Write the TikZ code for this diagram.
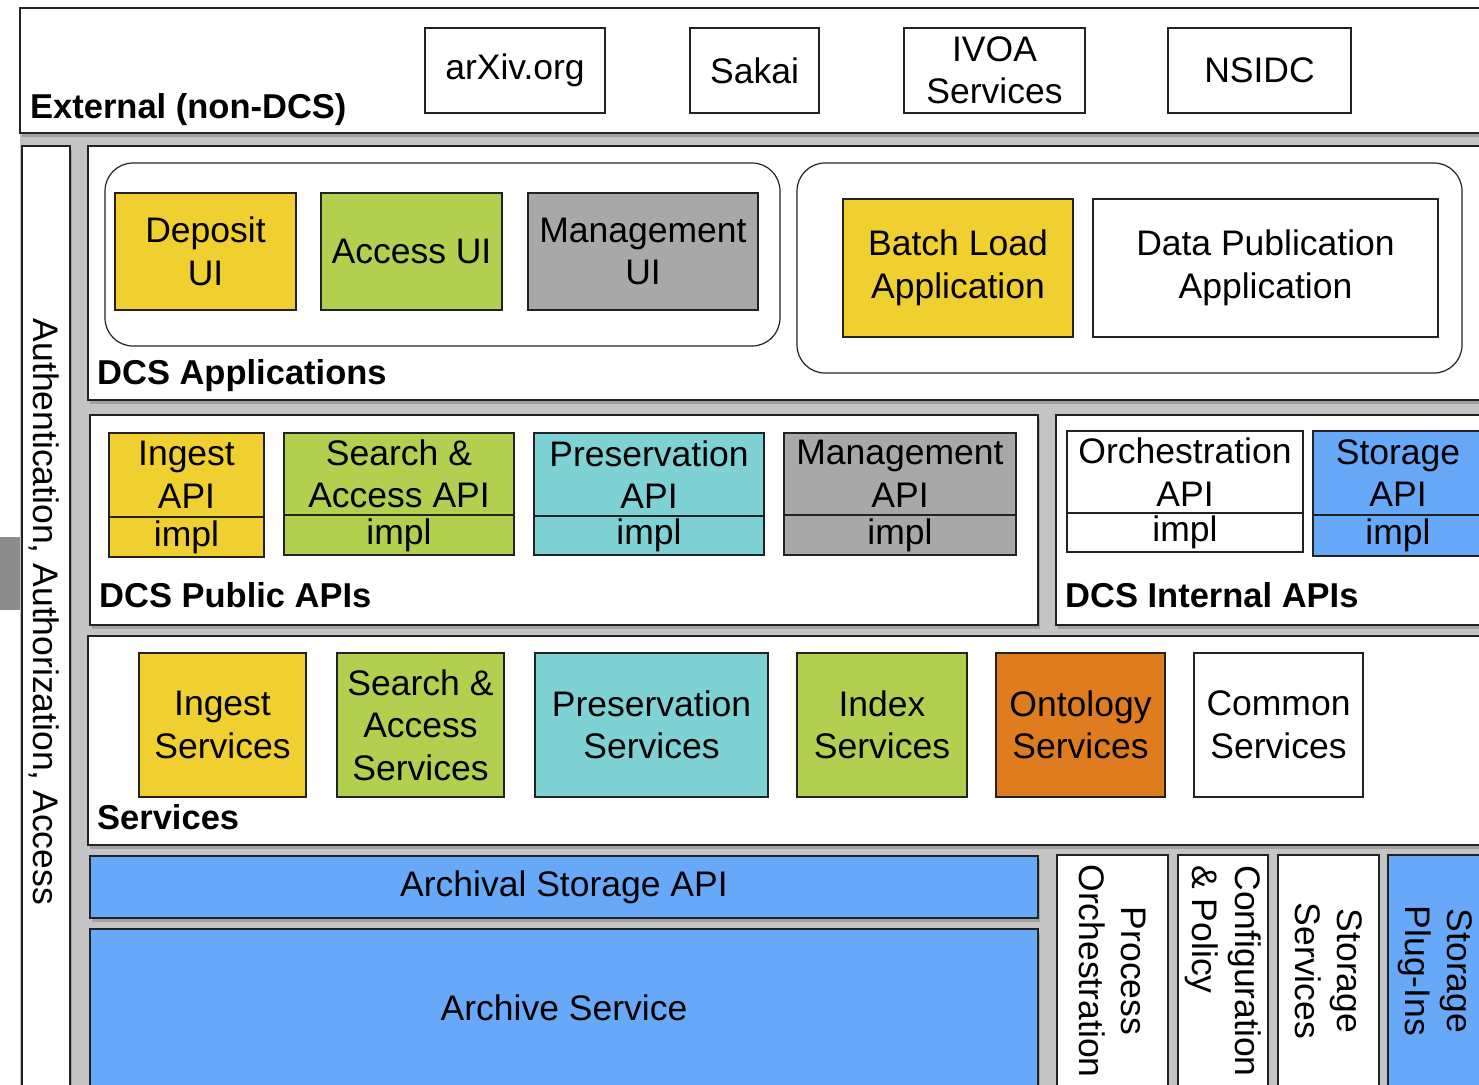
\documentclass[tikz,border=0pt]{standalone}
\usepackage{fontspec}
\setmainfont{Liberation Sans}
\usetikzlibrary{positioning,shadows}

\definecolor{dcsyellow}{RGB}{240,208,48}
\definecolor{dcsgreen}{RGB}{178,208,80}
\definecolor{dcsgray}{RGB}{168,168,168}
\definecolor{dcscyan}{RGB}{126,210,212}
\definecolor{dcsblue}{RGB}{104,168,248}
\definecolor{dcsorange}{RGB}{224,124,32}
\definecolor{backgray}{RGB}{196,196,196}
\definecolor{edge}{RGB}{34,34,34}

\tikzset{
    panel/.style={draw=edge, line width=1.8pt, fill=white,
        drop shadow={shadow xshift=2pt, shadow yshift=-4pt, opacity=0.5}},
    appgroup/.style={draw=edge, line width=1.2pt, rounded corners=28pt},
    blk/.style={draw=edge, line width=1.4pt, inner sep=0pt, outer sep=0pt, align=center,
        font=\fontsize{35.5}{42.5}\selectfont},
    upright/.style={blk, rotate=-90},
    sunk/.style={drop shadow={shadow xshift=2pt, shadow yshift=-4pt, opacity=0.5}},
    paneltitle/.style={anchor=base west, inner sep=0pt,
        font=\fontsize{34.5}{40}\selectfont\bfseries},
}

\begin{document}
\begin{tikzpicture}[x=1pt, y=-1pt]
            \useasboundingbox (0,0) rectangle (1479,1084);
            \clip (0,0) rectangle (1479,1084);
            \fill[backgray] (20,133) rectangle (1500,1100);
            \fill[black!45] (0,537) rectangle (20,610);

            \draw[panel] (20,8) rectangle (1500,133);
            \node[paneltitle] (exttitle) at (30,118) {External (non-DCS)};
            \node[blk, minimum width=180pt, minimum height=85pt] (arxiv) at (515,70.5) {arXiv.org};
            \node[blk, minimum width=129pt, minimum height=85pt] (sakai) at (754.5,70.5) {Sakai};
            \node[blk, minimum width=181pt, minimum height=85pt] (ivoa) at (994.5,70.5) {IVOA\\Services};
            \node[blk, minimum width=183pt, minimum height=85pt] (nsidc) at (1259.5,70.5) {NSIDC};

            \draw[panel] (22,146) rectangle (70,1100);
            \node[rotate=-90, font=\fontsize{35.5}{42.5}\selectfont] (aaa) at (44,612) {Authentication, Authorization, Access};

            \draw[panel] (88,146) rectangle (1500,400);
            \node[paneltitle] (apptitle) at (97,384) {DCS Applications};
            \draw[appgroup] (105,163) rectangle (780,346);
            \draw[appgroup] (797,163) rectangle (1462,373);
            \node[blk, fill=dcsyellow, minimum width=181pt, minimum height=117pt] (depositui) at (205.5,251.5) {Deposit\\UI};
            \node[blk, fill=dcsgreen, minimum width=181pt, minimum height=117pt] (accessui) at (411.5,251.5) {Access UI};
            \node[blk, fill=dcsgray, minimum width=230pt, minimum height=117pt] (mgmtui) at (643,251.5) {Management\\UI};
            \node[blk, fill=dcsyellow, minimum width=230pt, minimum height=138pt] (batchapp) at (958,268) {Batch Load\\Application};
            \node[blk, fill=white, minimum width=345pt, minimum height=138pt] (pubapp) at (1265.5,268) {Data Publication\\Application};

            \draw[panel] (90,415) rectangle (1038,625);
            \node[paneltitle] (pubtitle) at (99,607) {DCS Public APIs};
            \node[blk, fill=dcsyellow, minimum width=155pt, minimum height=84pt] (ingestapi) at (186.5,475) {Ingest\\API};
            \node[blk, fill=dcsyellow, minimum width=155pt, minimum height=40pt, below=0pt of ingestapi] (ingestimpl) {impl};
            \node[blk, fill=dcsgreen, minimum width=230pt, minimum height=82pt] (searchapi) at (399,474) {Search \&\\Access API};
            \node[blk, fill=dcsgreen, minimum width=230pt, minimum height=40pt, below=0pt of searchapi] (searchimpl) {impl};
            \node[blk, fill=dcscyan, minimum width=230pt, minimum height=83pt] (presapi) at (649,474.5) {Preservation\\API};
            \node[blk, fill=dcscyan, minimum width=230pt, minimum height=39pt, below=0pt of presapi] (presimpl) {impl};
            \node[blk, fill=dcsgray, minimum width=232pt, minimum height=82pt] (mgmtapi) at (900,474) {Management\\API};
            \node[blk, fill=dcsgray, minimum width=232pt, minimum height=40pt, below=0pt of mgmtapi] (mgmtimpl) {impl};

            \draw[panel] (1056,415) rectangle (1500,625);
            \node[paneltitle] (inttitle) at (1065,607) {DCS Internal APIs};
            \node[blk, fill=white, minimum width=236pt, minimum height=82pt] (orchapi) at (1185,472) {Orchestration\\API};
            \node[blk, fill=white, minimum width=236pt, minimum height=39pt, below=0pt of orchapi] (orchimpl) {impl};
            \node[blk, fill=dcsblue, minimum width=170pt, minimum height=84pt] (storeapi) at (1398,473) {Storage\\API};
            \node[blk, fill=dcsblue, minimum width=170pt, minimum height=41pt, below=0pt of storeapi] (storeimpl) {impl};

            \draw[panel] (88,636) rectangle (1500,845);
            \node[paneltitle] (svctitle) at (97,829) {Services};
            \node[blk, fill=dcsyellow, minimum width=167pt, minimum height=144pt] (ingestsvc) at (222.5,725) {Ingest\\Services};
            \node[blk, fill=dcsgreen, minimum width=167pt, minimum height=144pt] (searchsvc) at (420.5,725) {Search \&\\Access\\Services};
            \node[blk, fill=dcscyan, minimum width=233pt, minimum height=144pt] (pressvc) at (651.5,725) {Preservation\\Services};
            \node[blk, fill=dcsgreen, minimum width=170pt, minimum height=144pt] (indexsvc) at (882,725) {Index\\Services};
            \node[blk, fill=dcsorange, minimum width=169pt, minimum height=144pt] (ontsvc) at (1080.5,725) {Ontology\\Services};
            \node[blk, fill=white, minimum width=169pt, minimum height=144pt] (commonsvc) at (1278.5,725) {Common\\Services};

            \node[blk, sunk, fill=dcsblue, minimum width=948pt, minimum height=62pt] (archapi) at (564,887) {Archival Storage API};
            \node[blk, sunk, fill=dcsblue, minimum width=948pt, minimum height=158pt] (archsvc) at (564,1008) {Archive Service};
            \node[upright, fill=white, minimum width=232pt, minimum height=111pt] (procorch) at (1112.5,971) {Process\\Orchestration};
            \node[upright, fill=white, align=left, minimum width=232pt, minimum height=90pt] (confpol) at (1223,971) {Configuration\\\& Policy};
            \node[upright, fill=white, minimum width=232pt, minimum height=101pt] (storesvc) at (1328.5,971) {Storage\\Services};
            \node[upright, fill=dcsblue, minimum width=232pt, minimum height=94pt] (plugins) at (1435,971) {Storage\\Plug-Ins};
        \end{tikzpicture}
\end{document}
